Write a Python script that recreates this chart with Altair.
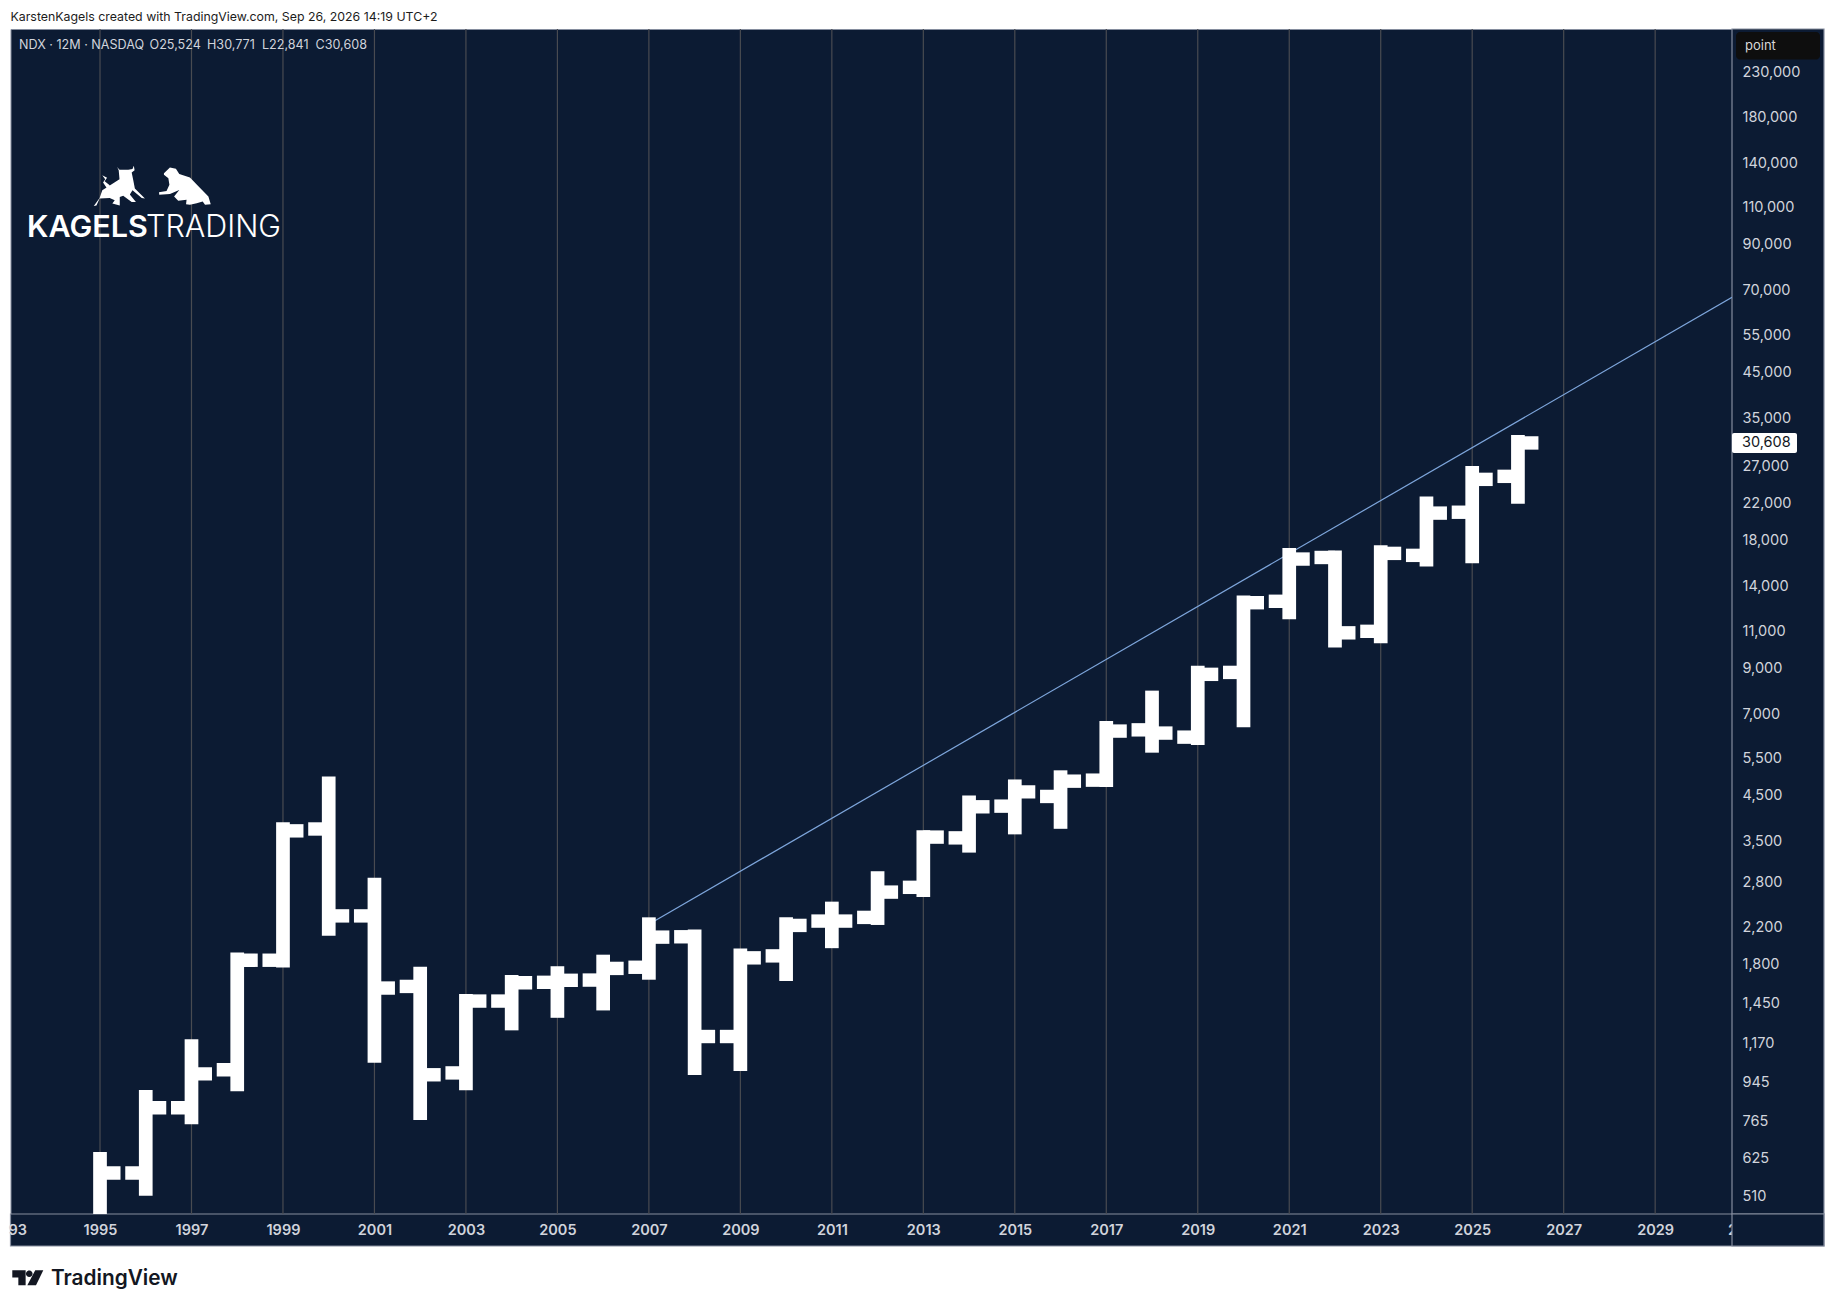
"""NDX yearly bars on a log scale, TradingView style."""

import altair as alt
import pandas as pd

YEARS = list(range(1995, 2027))
OPEN = [398, 578, 824, 1013, 1838, 3752, 2339, 1594, 996, 1472, 1630, 1650, 1769, 2088, 1214, 1882,
        2274, 2320, 2732, 3575, 4248, 4478, 4893, 6432, 6182, 8790, 12940, 16420, 10990, 16610, 21000, 25524]
HIGH = [624, 875, 1153, 1846, 3748, 4810, 2772, 1710, 1473, 1634, 1714, 1825, 2236, 2092, 1888, 2236,
        2435, 2873, 3590, 4337, 4732, 4973, 6503, 7670, 8786, 12861, 16664, 16433, 16914, 22045, 26030, 30771]
LOW = [390, 530, 782, 936, 1833, 2179, 1093, 800, 941, 1303, 1395, 1452, 1716, 1022, 1045, 1704,
       2037, 2311, 2690, 3425, 3782, 3898, 4894, 5897, 6145, 6769, 12185, 10440, 10689, 16236, 16517, 22841]
CLOSE = [578, 824, 991, 1838, 3714, 2339, 1580, 986, 1472, 1626, 1648, 1758, 2084, 1214, 1862, 2221,
         2274, 2662, 3590, 4233, 4590, 4866, 6389, 6320, 8698, 12840, 16280, 10900, 16790, 20900, 25110, 30608]

TREND_YEARS = [2007, 2030.68]
TREND_PRICES = [2236, 67600]

PRICE_TICKS = [230000, 180000, 140000, 110000, 90000, 70000, 55000, 45000, 35000, 27000, 22000, 18000,
               14000, 11000, 9000, 7000, 5500, 4500, 3500, 2800, 2200, 1800, 1450, 1170, 945, 765, 625, 510]
YEAR_TICKS = list(range(1995, 2031, 2))

BG = '#0c1b33'
LINE = '#858d9e'
GRID = '#494b51'
LABEL = '#d1d4dc'
FONT = 'Inter'

LEFT, TOP = 10.5, 29
W, H = 1721.5, 1185
PANEL, STRIP = 92, 32

BULL = ('M-.97 .77L-.75 .47L-.65 .18L0 -.24L-.03 -.58L-.09 -.70L0 -.59L.33 -.59L.49 -.62L.54 -.75L.57 -.58'
        'L.46 -.49L.52 -.20L.58 .11L.96 .49L.84 .47L.49 .18L.39 .34L.62 .62L.46 .62L.14 .39L.01 .43L.01 .75'
        'L-.27 .68L-.18 .56L-.37 .47L-.75 .49L-.87 .75Z'
        'M-.65 -.39L-.47 -.29L-.56 -.16L-.37 -.01L-.47 .11L-.62 -.11L-.54 -.24Z')
BEAR = ('M-.81 -.47L-.58 -.69L-.35 -.64L-.22 -.44L.19 -.31L.58 .10L.90 .42L.99 .72L.77 .74L.68 .62L.45 .68'
        'L.19 .74L.04 .72L.06 .55L-.26 .59L-.42 .42L-.22 .17L-.58 .33L-.99 .36L-1 .26L-.71 .21L-.60 -.03L-.64 -.28L-.81 -.41Z')
TV_LOGO = ('M-1 -.47L-.14 -.47L-.14 .5L-.61 .5L-.61 0L-1 0Z'
           'M-.12 -.24A.215 .215 0 1 0 .31 -.24A.215 .215 0 1 0 -.12 -.24Z'
           'M.48 -.47L1 -.47L.53 .5L-.03 .5Z')

bars = pd.DataFrame({'year': YEARS, 'open': OPEN, 'high': HIGH, 'low': LOW, 'close': CLOSE})
trend = pd.DataFrame({'year': TREND_YEARS, 'price': TREND_PRICES})
grid_years = pd.DataFrame({'year': YEAR_TICKS})

X_SCALE = alt.Scale(domain=[1993.043, 2030.68], nice=False, zero=False)
Y_SCALE = alt.Scale(type='log', domain=[462.5, 290600], nice=False)


def box(x, x2, y, y2, **style):
    """Rectangle placed in page pixels, for panels and chips."""
    return alt.Chart().mark_rect(**style).encode(
        x=alt.value(x - LEFT), x2=alt.value(x2 - LEFT), y=alt.value(y - TOP), y2=alt.value(y2 - TOP))


def label(text, x, y, size=12.6, color=LABEL, weight=400, align='left'):
    """Text placed in page pixels."""
    return alt.Chart().mark_text(text=text, font=FONT, fontSize=size, color=color, fontWeight=weight,
                                 align=align, baseline='middle').encode(
        x=alt.value(x - LEFT), y=alt.value(y - TOP))


def glyph(path, cx, cy, width, color):
    """Filled svg path centred on a page pixel."""
    return alt.Chart().mark_point(shape=path, size=width ** 2, filled=True, color=color, opacity=1).encode(
        x=alt.value(cx - LEFT), y=alt.value(cy - TOP))


x_axis = alt.Axis(title=None, values=YEAR_TICKS, format='d', grid=False, ticks=False,
                  domain=False, labelColor=LABEL, labelFont=FONT, labelFontSize=14.5, labelFontWeight=600,
                  labelPadding=9, labelOverlap=False, labelFlush=False, zindex=1)
y_axis = alt.Axis(title=None, orient='right', values=PRICE_TICKS, format=',d', grid=False, ticks=False,
                  domain=False, labelColor=LABEL, labelFont=FONT, labelFontSize=14.5, labelPadding=10,
                  labelOverlap=False, labelFlush=False, zindex=1)

gridlines = alt.Chart(grid_years).mark_rule(color=GRID, strokeWidth=1.2).encode(
    x=alt.X('year:Q', scale=X_SCALE, axis=x_axis),
)
trend_line = alt.Chart(trend).mark_line(color='#7ea6dc', strokeWidth=1.2, clip=True).encode(
    x=alt.X('year:Q', scale=X_SCALE),
    y=alt.Y('price:Q', scale=Y_SCALE, axis=y_axis),
)
bodies = alt.Chart(bars).mark_rule(color='white', strokeWidth=13.7, strokeCap='square', clip=True).encode(
    x=alt.X('year:Q', scale=X_SCALE),
    y=alt.Y('low:Q', scale=Y_SCALE),
    y2='high:Q',
)
open_ticks = alt.Chart(bars).mark_tick(color='white', orient='horizontal', size=20.5, thickness=13.4, opacity=1,
                                       xOffset=-10.25, clip=True).encode(
    x=alt.X('year:Q', scale=X_SCALE),
    y=alt.Y('open:Q', scale=Y_SCALE),
)
close_ticks = alt.Chart(bars).mark_tick(color='white', orient='horizontal', size=20.5, thickness=13.4, opacity=1,
                                        xOffset=10.25, clip=True).encode(
    x=alt.X('year:Q', scale=X_SCALE),
    y=alt.Y('close:Q', scale=Y_SCALE),
)
last_bar = bars.tail(1)
price_tag = alt.Chart(last_bar).mark_tick(color='white', orient='horizontal', size=65, thickness=20, opacity=1,
                                          cornerRadius=2).encode(
    x=alt.value(W + 32.5),
    y=alt.Y('close:Q', scale=Y_SCALE),
)
price_text = alt.Chart(last_bar).mark_text(color='#131722', font=FONT, fontSize=14.5, align='left',
                                           baseline='middle').encode(
    x=alt.value(W + 10),
    y=alt.Y('close:Q', scale=Y_SCALE),
    text=alt.Text('close:Q', format=',d'),
)

chart = alt.layer(
    box(LEFT, LEFT + W + PANEL, TOP + H, TOP + H + STRIP, fill=BG, stroke=LINE, strokeWidth=1.2),
    label('93', 27, 1230.5, size=14.5, weight=600, align='right'),
    label('2', 1728, 1230.5, size=14.5, weight=600),
    box(LEFT + W, LEFT + W + PANEL, TOP, TOP + H, fill=BG, stroke=LINE, strokeWidth=1.2),
    box(LEFT + W, LEFT + W + PANEL, TOP + H, TOP + H + STRIP, fill=BG, stroke=LINE, strokeWidth=1.2),
    gridlines,
    trend_line,
    bodies,
    open_ticks,
    close_ticks,
    box(1736, 1820, 32, 59.5, fill='#0e0e0e', cornerRadius=4),
    label('point', 1745, 46, size=13, color='#d8d8d8'),
    price_tag,
    price_text,
    label('KarstenKagels created with TradingView.com, Sep 26, 2026 14:19 UTC+2', 10.5, 17, size=12.35, color='#1c1c1c'),
    label('NDX · 12M · NASDAQ', 19, 45),
    label('O25,524', 149.5, 45),
    label('H30,771', 207, 45),
    label('L22,841', 262, 45),
    label('C30,608', 315.5, 45),
    label('KAGELS', 27, 228, size=30.5, color='white', weight=600),
    label('TRADING', 146, 228, size=30.5, color='white', weight=300),
    glyph(BULL, 119.5, 185.5, 53, 'white'),
    glyph(BEAR, 185, 185.5, 52, 'white'),
    glyph(TV_LOGO, 27.8, 1277.5, 31, '#131722'),
    label('TradingView', 51, 1279, size=20.8, color='#131722', weight=600),
).properties(
    width=W,
    height=H,
    padding={'left': LEFT - 8, 'top': TOP - 8, 'right': PANEL + 1, 'bottom': STRIP + 43},
    autosize=alt.AutoSizeParams(type='none'),
    background='white',
).configure_view(fill=BG, stroke=LINE, strokeWidth=1)

chart.save("out.html", embed_options={"renderer": "svg", "actions": False})
